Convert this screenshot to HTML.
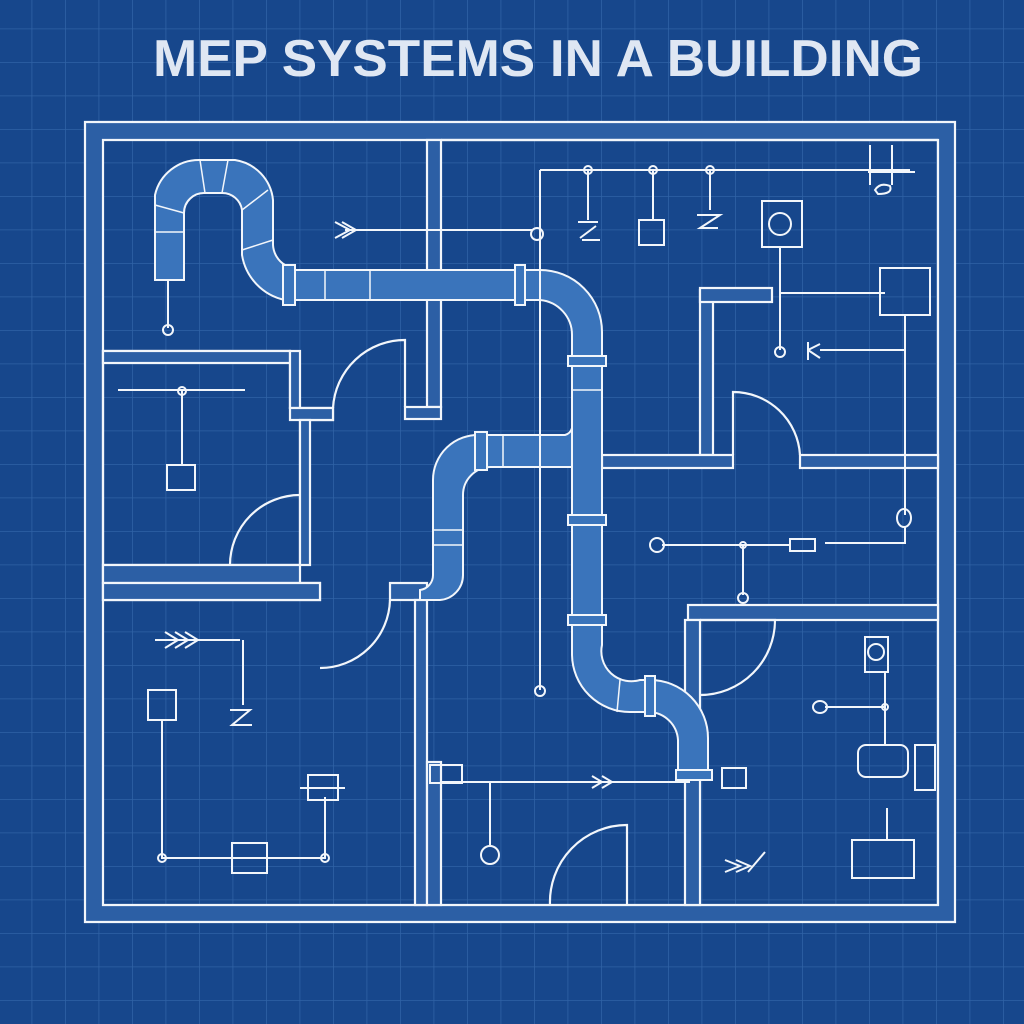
<!DOCTYPE html>
<html><head><meta charset="utf-8"><style>
html,body{margin:0;padding:0;background:#17478c;}
svg{display:block}
</style></head><body>
<svg width="1024" height="1024" viewBox="0 0 1024 1024" xmlns="http://www.w3.org/2000/svg">
<defs>
<pattern id="g" width="33.5" height="33.5" patternUnits="userSpaceOnUse" x="-2" y="-5">
<path d="M0 0H33.5M0 0V33.5" stroke="#2f62a5" stroke-width="1.6" fill="none"/>
</pattern>
</defs>
<rect width="1024" height="1024" fill="#17478c"/>
<rect width="1024" height="1024" fill="url(#g)"/>
<text x="538" y="76" text-anchor="middle" font-family="Liberation Sans, sans-serif" font-weight="bold" font-size="52" fill="#dfe7f3" textLength="770" lengthAdjust="spacingAndGlyphs">MEP SYSTEMS IN A BUILDING</text>

<g fill="#2c5fa5" stroke="#f2f6fb" stroke-width="2.2">
<!-- outer walls -->
<path d="M85 122H955V922H85Z M103 140V905H938V140Z" fill-rule="evenodd"/>
<!-- top-left interior -->
<path d="M103 351H290V408H333V420H300V565H103V583H320V600H103Z" fill="none"/>
<rect x="103" y="351" width="187" height="12"/>
<rect x="290" y="351" width="10" height="57"/>
<rect x="290" y="408" width="43" height="12"/>
<rect x="300" y="420" width="10" height="145"/>
<rect x="103" y="565" width="197" height="18"/>
<rect x="103" y="583" width="217" height="17"/>
<rect x="390" y="583" width="37" height="17"/>
<rect x="415" y="600" width="12" height="305"/>
<rect x="427" y="140" width="14" height="267"/>
<rect x="405" y="407" width="36" height="12"/>
<rect x="427" y="762" width="14" height="143"/>
<rect x="441" y="140" width="497" height="0" />
<!-- right side -->
<rect x="700" y="290" width="13" height="165"/>
<rect x="700" y="288" width="72" height="14"/>
<rect x="602" y="455" width="131" height="13"/>
<rect x="800" y="455" width="138" height="13"/>
<rect x="688" y="605" width="250" height="15"/>
<rect x="685" y="620" width="15" height="285"/>
<rect x="938" y="268" width="0" height="0"/>
</g>
<!-- top-right inner line -->
<path d="M441 140H938" stroke="#f2f6fb" stroke-width="2.2"/>
<!-- door arcs -->
<g fill="none" stroke="#f2f6fb" stroke-width="2.2">
<path d="M333 408A72 72 0 0 1 405 340V407"/>
<path d="M230 565A70 70 0 0 1 300 495"/>
<path d="M320 668A70 70 0 0 0 390 600"/>
<path d="M733 455V392A67 67 0 0 1 800 455"/>
<path d="M700 620H775A75 75 0 0 1 700 695"/>
<path d="M550 905A77 77 0 0 1 627 825V905"/>
</g>

<!-- ducts/pipes -->
<g fill="#3a74bb" stroke="#f2f6fb" stroke-width="2">
<path d="M155 280V195A45 45 0 0 1 200 160H235A45 45 0 0 1 273 200V245A25 25 0 0 0 285 265V300A55 55 0 0 1 242 255V210A20 20 0 0 0 222 193H205A20 20 0 0 0 184 213V280Z"/>
<path d="M283 270H540A62 62 0 0 1 602 332V645A30 30 0 0 0 640 680H650A58 58 0 0 1 708 738V775H678V740A30 30 0 0 0 650 712H630A58 58 0 0 1 572 655V335A35 35 0 0 0 540 300H283Z"/>
<path d="M572 428A10 10 0 0 1 565 435H480A45 45 0 0 0 433 480V575A15 15 0 0 1 420 590V600H440A25 25 0 0 0 463 575V495A28 28 0 0 1 490 467H572Z"/>
<rect x="283" y="265" width="12" height="40"/>
<rect x="515" y="265" width="10" height="40"/>
<rect x="568" y="356" width="38" height="10"/>
<rect x="568" y="515" width="38" height="10"/>
<rect x="568" y="615" width="38" height="10"/>
<rect x="475" y="432" width="12" height="38"/>
<rect x="645" y="676" width="10" height="40"/>
<rect x="676" y="770" width="36" height="10"/>
</g>
<g stroke="#f2f6fb" stroke-width="1.5" fill="none">
<path d="M155 232H184M184 213L155 205M205 193L200 160M222 193L228 160M242 210L268 190M242 250L273 240M325 270V300M370 270V300M572 390H602M433 530H463M433 545H463M503 435V467M620 680L617 712"/>
</g>

<!-- thin lines and fixtures -->
<g stroke="#f2f6fb" stroke-width="2" fill="none">
<path d="M168 280V328"/><circle cx="168" cy="330" r="5"/>
<path d="M118 390H245M182 390V465"/><circle cx="182" cy="391" r="4"/>
<rect x="167" y="465" width="28" height="25"/>
<path d="M345 230H533"/><circle cx="537" cy="234" r="6"/>
<path d="M335 222L350 230L335 238M342 222L356 230L342 238"/>
<path d="M540 170H910M540 170V690"/><circle cx="540" cy="691" r="5"/>
<circle cx="588" cy="170" r="4"/><circle cx="653" cy="170" r="4"/><circle cx="710" cy="170" r="4"/>
<path d="M588 170V220M653 170V220M710 170V210"/>
<path d="M578 222H598M580 238L596 226M582 240H600"/>
<rect x="639" y="220" width="25" height="25"/>
<path d="M697 215H720L700 228H718"/>
<rect x="762" y="201" width="40" height="46"/><circle cx="780" cy="224" r="11"/>
<path d="M780 247V350M780 293H885"/><circle cx="780" cy="352" r="5"/>
<rect x="880" y="268" width="50" height="47"/>
<path d="M905 315V515M820 350H905M808 342V360M808 350L820 344M808 350L820 358"/>
<ellipse cx="904" cy="518" rx="7" ry="9"/>
<path d="M905 527V543H825M662 545H790"/><circle cx="657" cy="545" r="7"/>
<rect x="790" y="539" width="25" height="12"/>
<path d="M743 545V595"/><circle cx="743" cy="598" r="5"/><circle cx="743" cy="545" r="3"/>
<path d="M870 145V185M892 145V185M868 172H915"/>
<path d="M875 190Q880 182 890 186Q893 194 878 194Z"/>
<!-- bottom left -->
<path d="M155 640H240M165 632L178 640L165 648M175 632L188 640L175 648M185 632L198 640L185 648"/>
<path d="M243 640V705M230 710H250L232 725H252"/>
<rect x="148" y="690" width="28" height="30"/>
<path d="M162 720V858H325V797"/><circle cx="162" cy="858" r="4"/><circle cx="325" cy="858" r="4"/>
<rect x="232" y="843" width="35" height="30"/>
<rect x="308" y="775" width="30" height="25"/>
<path d="M300 788H345"/>
<!-- bottom middle -->
<rect x="430" y="765" width="32" height="18"/>
<path d="M441 782H690M592 776L602 782L592 788M602 776L612 782L602 788"/>
<path d="M490 782V845"/><circle cx="490" cy="855" r="9"/>
<rect x="722" y="768" width="24" height="20"/>
<!-- bottom right -->
<rect x="865" y="637" width="23" height="35"/><circle cx="876" cy="652" r="8"/>
<path d="M885 672V710M825 707H885"/><ellipse cx="820" cy="707" rx="7" ry="6"/><circle cx="885" cy="707" r="3"/>
<path d="M885 710V745"/>
<rect x="858" y="745" width="50" height="32" rx="8"/>
<rect x="915" y="745" width="20" height="45"/>
<path d="M887 808V840"/>
<rect x="852" y="840" width="62" height="38"/>
<path d="M725 860L740 866L725 872M736 860L750 866L736 872M748 872L765 852"/>
</g>
</svg>
</body></html>
